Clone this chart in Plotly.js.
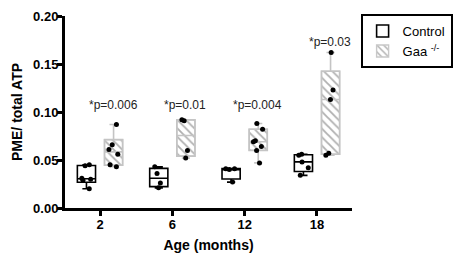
<!DOCTYPE html>
<html>
<head>
<meta charset="utf-8">
<script src="https://cdn.plot.ly/plotly-3.0.1.min.js"></script>
<style>html,body{margin:0;padding:0;background:#fff;}#chart{width:453px;height:259px;}</style>
</head>
<body>
<div id="chart"></div>
<script>
// ---- data ----
var ages = ['2', '6', '12', '18'];
var control2  = [0.045, 0.044, 0.031, 0.030, 0.029, 0.020];
var control6  = [0.043, 0.036, 0.026, 0.021];
var control12 = [0.041, 0.041, 0.040, 0.027];
var control18 = [0.056, 0.055, 0.048, 0.042, 0.034];
var gaa2  = [0.087, 0.066, 0.061, 0.056, 0.045, 0.043];
var gaa6  = [0.092, 0.091, 0.060, 0.052];
var gaa12 = [0.088, 0.082, 0.070, 0.069, 0.064, 0.060, 0.047];
var gaa18 = [0.162, 0.123, 0.113, 0.057, 0.055];
var pLabels = ['*p=0.006', '*p=0.01', '*p=0.004', '*p=0.03'];
var yTicks = [0, 0.05, 0.10, 0.15, 0.20];
var yTickText = ['0.00', '0.05', '0.10', '0.15', '0.20'];

// percentile, (n+1)p method
function pct(arr, p) {
  var s = arr.slice().sort(function (a, b) { return a - b; });
  var n = s.length, h = (n + 1) * p;
  if (h <= 1) return s[0];
  if (h >= n) return s[n - 1];
  var lo = Math.floor(h);
  return s[lo - 1] + (h - lo) * (s[lo] - s[lo - 1]);
}
function stats(groups) {
  return {
    q1: groups.map(function (g) { return pct(g, 0.25); }),
    med: groups.map(function (g) { return pct(g, 0.5); }),
    q3: groups.map(function (g) { return pct(g, 0.75); }),
    lo: groups.map(function (g) { return Math.min.apply(null, g); }),
    hi: groups.map(function (g) { return Math.max.apply(null, g); })
  };
}
var ctrl = [control2, control6, control12, control18];
var gaa = [gaa2, gaa6, gaa12, gaa18];
var cs = stats(ctrl), gs = stats(gaa);

var FONT = 'Liberation Sans, Arial, sans-serif';

var traces = [
  {
    type: 'box', name: 'Control', x: ages, y: ctrl,
    q1: cs.q1, median: cs.med, q3: cs.q3, lowerfence: cs.lo, upperfence: cs.hi,
    boxpoints: 'all', jitter: 0.6, pointpos: 0,
    alignmentgroup: 'a', offsetgroup: 'c',
    fillcolor: 'rgba(255,255,255,0)',
    line: { color: '#000', width: 1.6 },
    marker: { color: '#000', size: 5 },
    whiskerwidth: 0.45, hoverinfo: 'skip'
  },
  {
    type: 'bar', name: 'Gaa <sup>-/-</sup>', x: ages,
    base: gs.q1, y: gs.q3.map(function (v, i) { return v - gs.q1[i]; }),
    width: 0.25, offset: 0.0625,
    marker: {
      color: '#fff',
      line: { color: '#c8c8c8', width: 1.4 },
      pattern: { shape: '\\', fgcolor: '#b0b0b0', bgcolor: '#fff', size: 6, solidity: 0.3 }
    },
    hoverinfo: 'skip'
  },
  {
    type: 'box', name: 'Gaa', x: ages, y: gaa, showlegend: false,
    q1: gs.q1, median: gs.med, q3: gs.q3, lowerfence: gs.lo, upperfence: gs.hi,
    boxpoints: 'all', jitter: 0.6, pointpos: 0,
    alignmentgroup: 'a', offsetgroup: 'g',
    fillcolor: 'rgba(255,255,255,0)',
    line: { color: '#c4c4c4', width: 1.6 },
    marker: { color: '#000', size: 5 },
    whiskerwidth: 0.45, hoverinfo: 'skip'
  }
];

var annY = [0.107, 0.107, 0.107, 0.173];
var annotations = ages.map(function (a, i) {
  return {
    x: i, y: annY[i], xref: 'x', yref: 'y', text: pLabels[i], showarrow: false,
    xshift: 13, yanchor: 'middle', font: { family: FONT, size: 12, color: '#222' }
  };
});

var layout = {
  width: 453, height: 259,
  margin: { l: 65, r: 101, t: 16, b: 51, autoexpand: false },
  paper_bgcolor: '#fff', plot_bgcolor: '#fff',
  boxmode: 'group', boxgap: 0.25, boxgroupgap: 0.33, barmode: 'overlay',
  showlegend: true,
  legend: {
    x: 1.03, y: 1.01, xanchor: 'left', yanchor: 'top',
    bordercolor: '#000', borderwidth: 2, bgcolor: '#fff',
    font: { family: FONT, size: 13, color: '#000' }, traceorder: 'normal'
  },
  xaxis: {
    type: 'category', categoryorder: 'array', categoryarray: ages,
    range: [-0.484, 3.484], showgrid: false, zeroline: false,
    showline: true, linecolor: '#000', linewidth: 3,
    ticks: 'outside', ticklen: 5, tickwidth: 3, tickcolor: '#000',
    ticklabelstandoff: -3,
    tickfont: { family: FONT, size: 13, color: '#000', weight: 'bold' },
    title: { text: 'Age (months)', font: { family: FONT, size: 14, color: '#000', weight: 'bold' }, standoff: 10 }
  },
  yaxis: {
    range: [0, 0.2], showgrid: false, zeroline: false,
    showline: true, linecolor: '#000', linewidth: 3,
    tickvals: yTicks, ticktext: yTickText,
    ticks: 'outside', ticklen: 5, tickwidth: 3, tickcolor: '#000',
    ticklabelstandoff: -4,
    tickfont: { family: FONT, size: 13, color: '#000', weight: 'bold' },
    title: { text: 'PME/ total ATP', font: { family: FONT, size: 14, color: '#000', weight: 'bold' }, standoff: 8 }
  },
  annotations: annotations
};

Plotly.newPlot('chart', traces, layout, { displayModeBar: false, staticPlot: true });
</script>
</body>
</html>
